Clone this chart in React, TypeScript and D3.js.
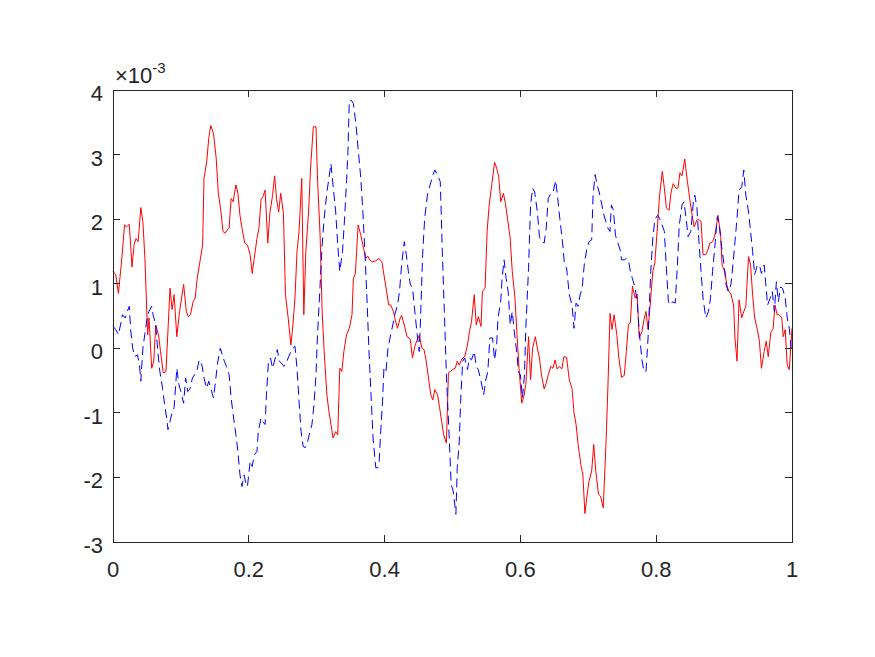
import { useEffect, useRef } from "react"
import * as d3 from "d3"

// values in units of 1e-3
const redSeries: [number, number][] = [
  [0, 1.19], [0.004, 1.14], [0.008, 0.85], [0.013, 1.39], [0.017, 1.91], [0.020, 1.88], [0.024, 1.92], [0.028, 1.26],
  [0.031, 1.60], [0.034, 1.70], [0.037, 1.65], [0.041, 2.18], [0.044, 1.96], [0.047, 1.39], [0.051, 0.21], [0.053, 0.47],
  [0.057, -0.31], [0.060, -0.20], [0.063, 0.36], [0.067, 0.21], [0.070, -0.05], [0.074, -0.38], [0.078, -0.36], [0.084, 0.93],
  [0.087, 0.60], [0.090, 0.83], [0.094, 0.18], [0.098, 0.57], [0.101, 0.78], [0.104, 0.99], [0.108, 0.57], [0.111, 0.49],
  [0.114, 0.52], [0.118, 0.72], [0.121, 0.78], [0.124, 1.08], [0.128, 1.34], [0.132, 1.60], [0.134, 2.63], [0.138, 2.89],
  [0.141, 3.25], [0.144, 3.45], [0.148, 3.33], [0.152, 2.94], [0.155, 2.42], [0.159, 2.11], [0.162, 1.81], [0.165, 1.78],
  [0.168, 1.83], [0.171, 1.86], [0.174, 2.32], [0.177, 2.27], [0.181, 2.53], [0.184, 2.40], [0.187, 2.06], [0.190, 1.86],
  [0.194, 1.63], [0.198, 1.60], [0.202, 1.45], [0.205, 1.16], [0.208, 1.39], [0.212, 1.70], [0.215, 1.86], [0.218, 2.30],
  [0.221, 2.35], [0.224, 2.45], [0.228, 1.63], [0.231, 2.09], [0.235, 2.37], [0.238, 2.67], [0.241, 2.30], [0.244, 2.11],
  [0.247, 2.40], [0.251, 2.09], [0.254, 0.83], [0.258, 0.47], [0.262, 0.05], [0.265, 0.36], [0.268, 0.78], [0.271, 1.50],
  [0.274, 1.81], [0.278, 2.63], [0.281, 0.52], [0.284, 1.50], [0.288, 2.11], [0.291, 2.79], [0.295, 3.43], [0.299, 3.43],
  [0.301, 2.68], [0.305, 1.75], [0.308, 0.57], [0.311, -0.05], [0.315, -0.72], [0.318, -0.98], [0.321, -1.18], [0.324, -1.39],
  [0.328, -1.29], [0.331, -1.34], [0.334, -0.31], [0.337, -0.36], [0.340, -0.05], [0.344, 0.21], [0.348, 0.31], [0.352, 0.52],
  [0.354, 1.08], [0.357, 1.16], [0.361, 1.91], [0.365, 1.75], [0.369, 1.55], [0.372, 1.39], [0.375, 1.43], [0.378, 1.37],
  [0.382, 1.34], [0.386, 1.35], [0.389, 1.37], [0.392, 1.39], [0.396, 1.34], [0.399, 1.14], [0.403, 0.88], [0.406, 0.67],
  [0.409, 0.67], [0.413, 0.57], [0.415, 0.47], [0.419, 0.31], [0.423, 0.47], [0.425, 0.51], [0.429, 0.36], [0.433, 0.18],
  [0.436, 0.16], [0.438, 0.13], [0.441, -0.15], [0.445, 0.05], [0.448, 0.13], [0.451, 0.20], [0.455, 0.00], [0.458, -0.02],
  [0.461, -0.18], [0.464, -0.41], [0.468, -0.72], [0.471, -0.80], [0.474, -0.64], [0.478, -0.72], [0.481, -0.92], [0.484, -1.13],
  [0.487, -1.34], [0.491, -1.47], [0.494, -0.38], [0.497, -0.36], [0.500, -0.33], [0.504, -0.31], [0.507, -0.20], [0.510, -0.26],
  [0.514, -0.16], [0.518, -0.13], [0.522, 0.05], [0.525, 0.26], [0.528, 0.41], [0.532, 0.83], [0.535, 0.36], [0.538, 0.49],
  [0.542, 0.34], [0.544, 0.88], [0.548, 0.93], [0.551, 1.81], [0.554, 2.22], [0.558, 2.55], [0.562, 2.88], [0.565, 2.79],
  [0.568, 2.66], [0.571, 2.27], [0.575, 2.40], [0.578, 2.24], [0.581, 2.01], [0.585, 1.70], [0.588, 1.19], [0.592, 0.78],
  [0.595, 0.21], [0.598, -0.31], [0.602, -0.85], [0.605, -0.75], [0.608, -0.56], [0.612, 0.18], [0.615, -0.49], [0.618, 0.00],
  [0.622, 0.18], [0.625, 0.00], [0.628, -0.15], [0.631, -0.41], [0.635, -0.63], [0.638, -0.54], [0.641, -0.41], [0.645, -0.28],
  [0.648, -0.31], [0.651, -0.18], [0.654, -0.32], [0.657, -0.28], [0.661, -0.32], [0.664, -0.13], [0.668, -0.14], [0.672, -0.49],
  [0.676, -0.62], [0.679, -1.00], [0.682, -1.18], [0.685, -1.49], [0.689, -1.80], [0.692, -1.96], [0.695, -2.56], [0.699, -2.21],
  [0.701, -2.06], [0.705, -1.90], [0.708, -1.49], [0.711, -1.90], [0.715, -2.26], [0.718, -2.29], [0.722, -2.47], [0.726, -1.49],
  [0.729, -0.56], [0.732, 0.54], [0.735, 0.29], [0.738, 0.52], [0.742, 0.21], [0.745, -0.15], [0.749, -0.45], [0.753, -0.42],
  [0.756, -0.05], [0.759, 0.36], [0.762, 0.40], [0.765, 0.96], [0.769, 0.78], [0.772, 0.84], [0.775, 0.16], [0.779, 0.26],
  [0.782, 0.44], [0.785, 0.57], [0.788, 0.29], [0.792, 0.78], [0.795, 1.19], [0.798, 1.32], [0.802, 1.91], [0.805, 2.37],
  [0.809, 2.74], [0.812, 2.48], [0.815, 2.17], [0.819, 2.14], [0.822, 2.42], [0.825, 2.55], [0.829, 2.48], [0.832, 2.48],
  [0.835, 2.72], [0.838, 2.67], [0.842, 2.93], [0.846, 2.58], [0.850, 2.27], [0.853, 2.06], [0.856, 1.88], [0.860, 1.99],
  [0.863, 1.99], [0.866, 1.97], [0.869, 1.45], [0.873, 1.45], [0.876, 1.52], [0.879, 1.63], [0.883, 1.65], [0.886, 1.73],
  [0.889, 1.91], [0.891, 2.06], [0.895, 1.73], [0.897, 1.29], [0.901, 1.19], [0.904, 0.98], [0.907, 0.88], [0.910, 0.84],
  [0.914, 0.67], [0.916, 0.16], [0.919, -0.20], [0.922, 0.75], [0.926, 0.47], [0.929, 0.57], [0.932, 0.65], [0.936, 1.42],
  [0.939, 1.29], [0.942, 0.83], [0.945, 0.47], [0.949, 0.29], [0.952, 0.11], [0.955, -0.31], [0.959, -0.05], [0.962, 0.11],
  [0.965, -0.13], [0.969, 0.26], [0.972, 0.29], [0.975, 0.67], [0.978, 0.52], [0.981, 0.52], [0.985, 0.47], [0.987, 0.18],
  [0.990, 0.29], [0.993, -0.26], [0.996, -0.33], [1.0, 0.31],
]

const blueSeries: [number, number][] = [
  [0, 0.34], [0.004, 0.29], [0.008, 0.21], [0.011, 0.36], [0.014, 0.52], [0.018, 0.47], [0.021, 0.57], [0.024, 0.65],
  [0.026, 0.29], [0.029, 0.00], [0.032, -0.13], [0.036, -0.10], [0.039, -0.26], [0.041, -0.51], [0.044, 0.00], [0.047, 0.23],
  [0.051, 0.52], [0.053, 0.57], [0.057, 0.65], [0.059, 0.52], [0.063, 0.36], [0.066, -0.05], [0.069, -0.36], [0.073, -0.62],
  [0.076, -0.87], [0.079, -1.08], [0.081, -1.26], [0.084, -1.13], [0.087, -1.00], [0.090, -0.92], [0.094, -0.31], [0.097, -0.56],
  [0.100, -0.67], [0.104, -0.85], [0.107, -0.46], [0.110, -0.67], [0.113, -0.64], [0.117, -0.46], [0.120, -0.41], [0.123, -0.38],
  [0.127, -0.18], [0.131, -0.26], [0.134, -0.46], [0.138, -0.62], [0.141, -0.51], [0.144, -0.62], [0.148, -0.77], [0.151, -0.51],
  [0.154, -0.23], [0.158, 0.00], [0.161, -0.10], [0.164, -0.20], [0.167, -0.28], [0.171, -0.41], [0.174, -0.77], [0.177, -1.03],
  [0.181, -1.34], [0.184, -1.60], [0.187, -1.96], [0.190, -2.14], [0.193, -1.96], [0.196, -2.11], [0.198, -2.14], [0.202, -1.75],
  [0.205, -1.83], [0.208, -1.65], [0.212, -1.60], [0.214, -1.29], [0.218, -1.08], [0.220, -1.13], [0.224, -1.18], [0.226, -0.72],
  [0.229, -0.20], [0.232, -0.15], [0.235, -0.31], [0.239, -0.15], [0.242, -0.02], [0.245, -0.20], [0.248, -0.23], [0.252, -0.28],
  [0.255, -0.23], [0.258, -0.15], [0.262, -0.05], [0.265, 0.00], [0.268, 0.03], [0.271, -0.31], [0.274, -0.82], [0.277, -1.29],
  [0.280, -1.52], [0.283, -1.54], [0.286, -1.47], [0.289, -1.34], [0.293, -1.18], [0.296, -0.87], [0.299, -0.41], [0.301, 0.16],
  [0.305, 0.98], [0.308, 1.60], [0.311, 2.01], [0.315, 2.42], [0.318, 2.63], [0.321, 2.86], [0.324, 2.53], [0.328, 2.11],
  [0.331, 1.60], [0.334, 1.19], [0.338, 1.50], [0.341, 2.00], [0.344, 2.60], [0.346, 3.04], [0.348, 3.84], [0.351, 3.84],
  [0.354, 3.79], [0.358, 3.45], [0.361, 3.09], [0.365, 2.63], [0.368, 2.11], [0.371, 1.50], [0.374, 0.78], [0.377, -0.05],
  [0.380, -0.72], [0.383, -1.39], [0.387, -1.85], [0.390, -1.85], [0.392, -1.75], [0.394, -1.34], [0.397, -0.82], [0.399, -0.31],
  [0.402, -0.36], [0.405, 0.00], [0.409, 0.21], [0.412, 0.36], [0.415, 0.52], [0.419, 0.67], [0.422, 0.88], [0.425, 1.29],
  [0.429, 1.65], [0.432, 1.45], [0.435, 1.19], [0.438, 0.98], [0.441, 0.95], [0.445, 0.52], [0.448, 0.21], [0.451, -0.05],
  [0.453, 0.47], [0.456, 1.45], [0.459, 2.01], [0.463, 2.37], [0.467, 2.53], [0.471, 2.68], [0.474, 2.76], [0.478, 2.68],
  [0.482, 2.58], [0.485, 1.50], [0.488, 0.57], [0.491, -0.41], [0.495, -1.34], [0.498, -2.11], [0.501, -2.21], [0.505, -2.57],
  [0.507, -1.85], [0.510, -1.44], [0.512, -0.82], [0.515, -0.20], [0.518, -0.15], [0.522, -0.33], [0.525, -0.15], [0.528, -0.18],
  [0.532, -0.05], [0.535, -0.28], [0.538, -0.33], [0.542, -0.51], [0.546, -0.72], [0.549, -0.49], [0.552, -0.36], [0.555, 0.16],
  [0.559, 0.16], [0.562, -0.18], [0.565, 0.05], [0.567, 0.47], [0.571, 0.72], [0.573, 1.08], [0.576, 1.37], [0.579, 1.08],
  [0.582, 0.88], [0.585, 0.36], [0.588, 0.57], [0.591, 0.26], [0.595, -0.10], [0.597, -0.36], [0.600, -0.41], [0.603, -0.77],
  [0.606, -0.41], [0.608, 0.31], [0.612, 1.24], [0.615, 2.22], [0.618, 2.48], [0.621, 2.42], [0.625, 2.11], [0.628, 1.73],
  [0.631, 1.65], [0.635, 1.63], [0.638, 1.86], [0.641, 2.32], [0.645, 2.40], [0.648, 2.41], [0.652, 2.60], [0.655, 2.32],
  [0.658, 2.01], [0.662, 1.65], [0.665, 1.29], [0.668, 1.25], [0.672, 0.83], [0.676, 0.67], [0.679, 0.31], [0.682, 0.70],
  [0.685, 0.65], [0.688, 0.83], [0.691, 0.93], [0.694, 1.29], [0.698, 1.55], [0.701, 1.65], [0.705, 1.68], [0.707, 2.37],
  [0.710, 2.69], [0.713, 2.53], [0.716, 2.42], [0.720, 2.22], [0.723, 2.06], [0.726, 1.96], [0.729, 1.86], [0.732, 1.81],
  [0.734, 2.22], [0.737, 2.14], [0.740, 1.75], [0.743, 1.65], [0.747, 1.52], [0.749, 1.37], [0.753, 1.37], [0.756, 1.39],
  [0.759, 1.37], [0.762, 1.19], [0.765, 1.08], [0.769, 0.93], [0.772, 0.72], [0.775, 0.26], [0.779, -0.18], [0.782, -0.36],
  [0.785, -0.36], [0.788, 0.16], [0.792, 1.19], [0.795, 1.70], [0.798, 1.99], [0.802, 2.06], [0.805, 2.01], [0.808, 1.93],
  [0.812, 1.81], [0.815, 1.24], [0.818, 0.72], [0.821, 0.67], [0.824, 0.72], [0.828, 0.70], [0.831, 1.24], [0.834, 1.91],
  [0.838, 2.22], [0.841, 2.27], [0.844, 2.01], [0.847, 1.73], [0.851, 1.81], [0.855, 2.30], [0.857, 2.37], [0.860, 2.17],
  [0.863, 1.65], [0.866, 1.19], [0.869, 0.78], [0.873, 0.47], [0.877, 0.57], [0.880, 0.78], [0.883, 1.19], [0.887, 1.65],
  [0.890, 2.04], [0.893, 1.91], [0.896, 1.60], [0.900, 1.29], [0.903, 0.98], [0.906, 0.88], [0.910, 0.98], [0.913, 1.29],
  [0.916, 1.65], [0.919, 2.01], [0.922, 2.45], [0.926, 2.50], [0.929, 2.76], [0.932, 2.37], [0.936, 2.11], [0.939, 1.81],
  [0.942, 1.50], [0.945, 1.14], [0.949, 1.29], [0.952, 1.29], [0.955, 1.16], [0.959, 1.29], [0.962, 0.93], [0.964, 0.67],
  [0.968, 0.78], [0.971, 0.88], [0.974, 0.57], [0.977, 1.03], [0.980, 0.72], [0.983, 0.95], [0.986, 0.93], [0.990, 0.78],
  [0.993, 0.47], [0.996, 0.31], [0.999, -0.02],
]

const xTicks = [0, 0.2, 0.4, 0.6, 0.8, 1]
const yTicks = [-3, -2, -1, 0, 1, 2, 3, 4]

export default function App() {
    const ref = useRef<SVGSVGElement>(null)

    useEffect(() => {
        const width = 875
        const height = 657
        const box = { left: 113, right: 792, top: 90, bottom: 542 }
        const axisColor = '#262626'
        const font = '"Liberation Sans", Arial, sans-serif'
        const tickLen = 7

        const scX = d3.scaleLinear().domain([0, 1]).range([box.left, box.right])
        const scY = d3.scaleLinear().domain([-3, 4]).range([box.bottom, box.top])

        const svg = d3.select(ref.current)
        svg.selectAll('*').remove()
        svg.attr('width', width).attr('height', height)

        svg.append('rect')
            .attr('width', width).attr('height', height).attr('fill', '#fff')

        const line = d3.line<[number, number]>()
            .x(d => scX(d[0]))
            .y(d => scY(d[1]))

        const plot = svg.append('g')

        plot.append('path')
            .datum(redSeries)
            .attr('d', line)
            .attr('fill', 'none')
            .attr('stroke', '#ff0000')
            .attr('stroke-width', 1)

        plot.append('path')
            .datum(blueSeries)
            .attr('d', line)
            .attr('fill', 'none')
            .attr('stroke', '#0000ff')
            .attr('stroke-width', 1)
            .attr('stroke-dasharray', '9,5')

        // axes box and ticks
        const ax = svg.append('g')
            .attr('stroke', axisColor)
            .attr('stroke-width', 1)
            .attr('fill', 'none')
            .attr('shape-rendering', 'crispEdges')

        ax.append('rect')
            .attr('x', box.left).attr('y', box.top)
            .attr('width', box.right - box.left).attr('height', box.bottom - box.top)

        xTicks.forEach(t => {
            const x = scX(t)
            ax.append('path').attr('d', `M${x} ${box.bottom} V${box.bottom - tickLen}`)
            ax.append('path').attr('d', `M${x} ${box.top} V${box.top + tickLen}`)
        })
        yTicks.forEach(t => {
            const y = scY(t)
            ax.append('path').attr('d', `M${box.left} ${y} H${box.left + tickLen}`)
            ax.append('path').attr('d', `M${box.right} ${y} H${box.right - tickLen}`)
        })

        const labels = svg.append('g')
            .attr('fill', axisColor)
            .attr('font-family', font)
            .attr('font-size', 22)

        labels.selectAll('.xl')
            .data(xTicks)
            .join('text')
            .attr('x', d => scX(d))
            .attr('y', box.bottom + 35)
            .attr('text-anchor', 'middle')
            .text(d => String(d))

        labels.selectAll('.yl')
            .data(yTicks)
            .join('text')
            .attr('x', box.left - 10)
            .attr('y', d => scY(d) + 11)
            .attr('text-anchor', 'end')
            .text(d => String(d))

        const exp = labels.append('text')
            .attr('x', box.left + 2)
            .attr('y', box.top - 7)
        exp.append('tspan').text('×10')
        exp.append('tspan').attr('dy', -10).attr('font-size', 15).text('-3')
    }, [])

    return (
        <svg ref={ref} style={{ position: 'absolute', left: 0, top: 0 }} />
    )
}
